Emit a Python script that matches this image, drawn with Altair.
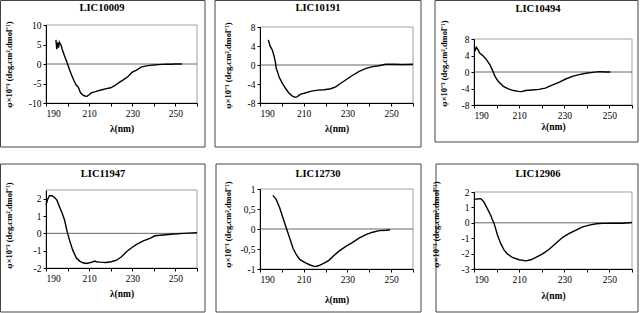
import altair as alt
import pandas as pd

names = ["LIC10009", "LIC10191", "LIC10494", "LIC11947", "LIC12730", "LIC12906"]

wl1 = [194.6, 195.0, 195.4, 195.8, 196.2, 196.6, 197.0, 197.5, 198.0, 198.5, 199.0, 199.5, 200.0, 201.0, 202.0,
       203.0, 204.0, 205.0, 206.0, 207.0, 208.0, 209.0, 210.0, 211.0, 212.0, 213.0, 214.0, 216.0, 218.0, 220.0,
       222.0, 224.0, 226.0, 228.0, 230.0, 232.0, 234.0, 236.0, 238.0, 240.0, 242.0, 244.0, 246.0, 248.0, 250.0,
       252.0, 253.0]
cd1 = [6.2, 3.8, 5.5, 4.2, 5.6, 5.2, 4.8, 3.8, 3.0, 2.2, 1.5, 0.8, 0.0, -1.6, -3.0,
       -4.3, -5.4, -6.0, -7.4, -7.9, -8.2, -8.3, -7.9, -7.4, -7.2, -7.1, -6.9, -6.6, -6.3, -6.1,
       -5.5, -4.7, -4.0, -3.2, -2.1, -1.6, -0.8, -0.55, -0.35, -0.25, -0.15, -0.1, -0.05, -0.05, 0.0,
       0.0, 0.0]

wl2 = [193.8, 194.7, 195.6, 196.3, 197.0, 197.4, 198.0, 198.8, 200.3, 201.8, 203.2, 204.7, 205.9, 206.9,
       208.4, 210.6, 213.5, 216.5, 219.4, 222.4, 224.6, 226.8, 229.7, 232.6, 235.6, 238.5, 241.5, 244.4,
       247.4, 251.8, 255.0, 260.0]
cd2 = [5.3, 3.9, 3.2, 2.1, 0.7, -0.7, -1.4, -2.6, -3.9, -5.0, -5.9, -6.5, -6.8, -6.7,
       -6.2, -5.9, -5.5, -5.3, -5.2, -5.0, -4.6, -3.9, -3.0, -2.1, -1.3, -0.7, -0.35, -0.15,
       0.15, 0.15, 0.1, 0.15]

wl3 = [190.3, 191.0, 191.8, 192.5, 194.0, 195.5, 197.0, 198.2, 199.3, 200.7, 203.0, 205.2, 207.5, 209.7,
       211.2, 212.7, 215.7, 218.7, 221.6, 224.6, 227.6, 230.6, 233.6, 236.6, 239.6, 242.5, 245.5, 248.5, 250.4]
cd3 = [5.0, 6.0, 5.4, 4.6, 3.95, 3.0, 1.8, 0.4, -1.05, -2.26, -3.47, -4.1, -4.5, -4.7,
       -4.75, -4.5, -4.35, -4.2, -3.9, -3.2, -2.5, -1.7, -1.05, -0.65, -0.3, -0.1, 0.1, 0.0, 0.0]

wl4 = [190.0, 190.8, 191.6, 192.8, 193.9, 195.0, 196.2, 197.5, 198.6, 199.8, 200.9, 202.4, 204.0, 205.6,
       207.1, 208.7, 210.2, 211.8, 212.6, 213.3, 214.9, 218.0, 220.3, 222.7, 225.0, 227.3, 229.7, 232.0,
       235.1, 238.2, 240.5, 244.4, 249.1, 253.8, 260.0]
cd4 = [1.64, 1.97, 2.17, 2.17, 2.07, 1.93, 1.55, 1.16, 0.77, 0.1, -0.39, -0.97, -1.41, -1.6,
       -1.7, -1.74, -1.7, -1.64, -1.6, -1.64, -1.66, -1.68, -1.64, -1.55, -1.35, -1.06, -0.83, -0.64,
       -0.44, -0.29, -0.14, -0.1, -0.04, 0.0, 0.04]

wl5 = [195.9, 197.4, 199.0, 200.5, 202.0, 203.6, 205.1, 206.7, 208.2, 210.6, 212.9, 215.2, 216.7, 219.1,
       221.4, 223.7, 226.0, 229.1, 232.2, 235.3, 238.4, 241.5, 244.6, 247.7, 249.5]
cd5 = [0.84, 0.74, 0.53, 0.28, 0.03, -0.23, -0.48, -0.65, -0.76, -0.84, -0.9, -0.94, -0.92, -0.86,
       -0.79, -0.67, -0.56, -0.44, -0.34, -0.23, -0.14, -0.08, -0.04, -0.03, -0.02]

wl6 = [190.0, 191.5, 193.0, 194.4, 195.9, 197.4, 198.1, 198.9, 200.4, 201.9, 203.3, 204.8, 207.0, 210.0,
       213.0, 215.2, 217.4, 220.4, 223.3, 226.3, 229.3, 232.2, 235.2, 238.1, 241.1, 244.1, 247.0, 251.5,
       256.0, 260.0]
cd6 = [1.52, 1.55, 1.57, 1.35, 0.92, 0.49, 0.21, -0.04, -0.79, -1.37, -1.76, -2.02, -2.25, -2.4,
       -2.47, -2.4, -2.25, -2.02, -1.72, -1.33, -0.94, -0.69, -0.47, -0.26, -0.15, -0.06, -0.04, -0.02,
       -0.03, 0.02]

y_domains = [[-10, 10], [-8, 8], [-8, 8], [-2, 2.5], [-1, 1], [-3, 2]]
y_ticks = [[-10, -5, 0, 5, 10], [-8, -4, 0, 4, 8], [-8, -4, 0, 4, 8],
           [-2, -1, 0, 1, 2], [-1, -0.5, 0, 0.5, 1], [-3, -2, -1, 0, 1, 2]]
x_ticks = [190, 200, 210, 220, 230, 240, 250, 260]

Y_TITLE = "φ×10⁻³ (deg.cm².dmol⁻¹)"
X_TITLE = "λ(nm)"
SERIF = "Liberation Serif"

# layout in page pixels. Each row shares one view top (vt); the plot rect sits inside the view.
layout = [
    dict(vt=25, plot=(46, 25, 197, 103), frame=(0.5, 0.5, 205, 147), cell=(0, 0, 210, 156), tc=(102, 8), ytx=-38, yty=64, xty=25),
    dict(vt=25, plot=(260, 27, 413, 103), frame=(215, 0.5, 421, 147), cell=(210, 0, 428, 156), tc=(318, 8), ytx=-33, yty=65, xty=25),
    dict(vt=25, plot=(474, 39, 632, 105), frame=(435, 0.5, 638, 142), cell=(428, 0, 640, 156), tc=(538, 9), ytx=-31, yty=63, xty=21),
    dict(vt=189, plot=(46, 190, 197, 268), frame=(0.5, 164, 205, 312), cell=(0, 156, 210, 313), tc=(103, 174), ytx=-38, yty=225, xty=25),
    dict(vt=189, plot=(260, 189, 413, 269), frame=(216, 164, 421, 312), cell=(210, 156, 428, 313), tc=(318, 174), ytx=-33, yty=224, xty=30),
    dict(vt=189, plot=(474, 192, 632, 269), frame=(436, 164, 638, 312), cell=(428, 156, 640, 313), tc=(538, 174), ytx=-39, yty=224, xty=26),
]

series = [(wl1, cd1), (wl2, cd2), (wl3, cd3), (wl4, cd4), (wl5, cd5), (wl6, cd6)]

one = pd.DataFrame({"k": [0]})


def panel(i):
    wl, cd = series[i]
    L = layout[i]
    px1, py1, px2, py2 = L["plot"]
    vt = L["vt"]
    w = px2 - px1
    h = py2 - vt
    top = py1 - vt
    rx = lambda v: v - px1
    ry = lambda v: v - vt
    df = pd.DataFrame({"wl": wl, "cd": cd})
    label_expr = "replace(replace(datum.label, '\u2212', '-'), '.', ',')"

    yscale = alt.Scale(domain=y_domains[i], range=[h, top], nice=False, zero=False)
    xscale = alt.Scale(domain=[190, 260], nice=False, zero=False)
    yaxis = alt.Axis(values=y_ticks[i], format="~r", title=Y_TITLE, labelExpr=label_expr, labelOverlap=False,
                     titleX=L["ytx"], titleY=ry(L["yty"]), titleBaseline="middle", titleFontSize=8.5, zindex=2)

    cell = alt.Chart(one).mark_rect(opacity=0).encode(
        x=alt.value(rx(L["cell"][0])), x2=alt.value(rx(L["cell"][2])),
        y=alt.value(ry(L["cell"][1])), y2=alt.value(ry(L["cell"][3])))
    frame = alt.Chart(one).mark_rect(fillOpacity=0, stroke="#444444", strokeWidth=1).encode(
        x=alt.value(rx(L["frame"][0])), x2=alt.value(rx(L["frame"][2])),
        y=alt.value(ry(L["frame"][1])), y2=alt.value(ry(L["frame"][3])))
    border = alt.Chart(one).mark_rect(fillOpacity=0, stroke="#a0a0a0", strokeWidth=1).encode(
        x=alt.value(0), x2=alt.value(w), y=alt.value(top), y2=alt.value(h))
    zero = alt.Chart(one).mark_rule(color="#666666", strokeWidth=1).encode(
        x=alt.value(0), x2=alt.value(w), y=alt.Y(datum=0, scale=yscale, axis=yaxis))
    line = alt.Chart(df).mark_line(color="black", strokeWidth=1.4).encode(
        x=alt.X("wl:Q", scale=xscale,
                axis=alt.Axis(values=x_ticks, title=X_TITLE, labelOverlap=False, zindex=2,
                              labelExpr="datum.value % 20 == 10 ? datum.label : ''",
                              titleY=L["xty"], titleBaseline="middle", titleFontSize=9.5)),
        y=alt.Y("cd:Q", scale=yscale, axis=yaxis))
    title = alt.Chart(one).mark_text(font=SERIF, fontWeight="bold", fontSize=10.5, baseline="middle",
                                     align="center", color="black").encode(
        x=alt.value(rx(L["tc"][0])), y=alt.value(ry(L["tc"][1])), text=alt.value(names[i]))
    return alt.layer(cell, frame, border, zero, line, title).properties(width=w, height=h)


row1 = alt.hconcat(panel(0), panel(1), panel(2), spacing=0)
row2 = alt.hconcat(panel(3), panel(4), panel(5), spacing=0)
chart = alt.vconcat(row1, row2, spacing=0).properties(padding=0, background="white").configure_view(
    strokeWidth=0
).configure_axis(
    grid=False, labelFont=SERIF, labelFontSize=9.5, labelColor="black", domainColor="black",
    tickColor="black", tickSize=3, labelPadding=2, titleFont=SERIF, titleFontWeight="bold",
    titleColor="black"
)

chart.save("out.html", embed_options={"renderer": "svg", "actions": False})
